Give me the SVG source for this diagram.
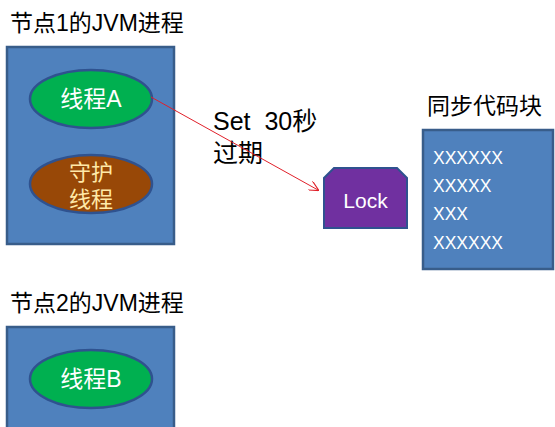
<svg xmlns="http://www.w3.org/2000/svg" width="555" height="427" viewBox="0 0 555 427">
<defs>
<style>
.t{font-family:"Liberation Sans","Noto Sans CJK SC",sans-serif;}
.box{fill:#4F81BD;stroke:#385D8A;stroke-width:2.5;}
.green{fill:#00B050;stroke:#2F528F;stroke-width:2.5;}
.brown{fill:#984807;stroke:#2F528F;stroke-width:2.5;}
.title{font-size:23px;fill:#000;}
.wt{font-size:23px;fill:#FFFFFF;}
</style>
<marker id="arr" viewBox="0 0 10 10" refX="9" refY="5" markerWidth="10" markerHeight="10" markerUnits="userSpaceOnUse" orient="auto">
<path d="M0,0 L10,5 L0,10" fill="none" stroke="#E0202A" stroke-width="1.2"/>
</marker>
</defs>
<rect width="555" height="427" fill="#FFFFFF"/>
<g id="node1">
<text class="t title" x="10" y="31">节点1的JVM进程</text>
<rect class="box" x="7" y="47" width="167" height="197"/>
</g>
<g id="threadA">
<ellipse class="green" cx="91" cy="99" rx="61" ry="29"/>
<text class="t wt" x="91" y="107" text-anchor="middle">线程A</text>
</g>
<g id="guard">
<ellipse class="brown" cx="91" cy="184" rx="61" ry="29"/>
<text class="t" x="91" y="180" text-anchor="middle" font-size="22" fill="#FFE9A8">守护</text>
<text class="t" x="91" y="207" text-anchor="middle" font-size="22" fill="#FFE9A8">线程</text>
</g>
<g id="node2">
<text class="t title" x="10" y="311">节点2的JVM进程</text>
<rect class="box" x="7" y="327" width="167" height="110"/>
</g>
<g id="threadB">
<ellipse class="green" cx="91" cy="379" rx="61" ry="29"/>
<text class="t wt" x="91" y="387" text-anchor="middle">线程B</text>
</g>
<g id="lock">
<path d="M334,168 L397,168 L407,178 L407,228 L324,228 L324,178 Z" fill="#7030A0" stroke="#2F528F" stroke-width="2"/>
<text class="t" x="365.5" y="208" text-anchor="middle" font-size="21" fill="#FFFFFF">Lock</text>
</g>
<g id="label">
<text class="t" x="213" y="130" font-size="25" fill="#000" xml:space="preserve">Set  30秒</text>
<text class="t" x="213" y="162" font-size="25" fill="#000">过期</text>
</g>
<g id="code">
<text class="t title" x="427" y="114">同步代码块</text>
<rect class="box" x="423" y="130" width="130" height="139"/>
<text class="t" x="433" y="164" font-size="17.5" fill="#FFFFFF">XXXXXX</text>
<text class="t" x="433" y="192" font-size="17.5" fill="#FFFFFF">XXXXX</text>
<text class="t" x="433" y="220" font-size="17.5" fill="#FFFFFF">XXX</text>
<text class="t" x="433" y="249" font-size="17.5" fill="#FFFFFF">XXXXXX</text>
</g>
<g id="connectors">
<line x1="151" y1="97" x2="318" y2="190" stroke="#E0202A" stroke-width="1" marker-end="url(#arr)"/>
</g>
</svg>
